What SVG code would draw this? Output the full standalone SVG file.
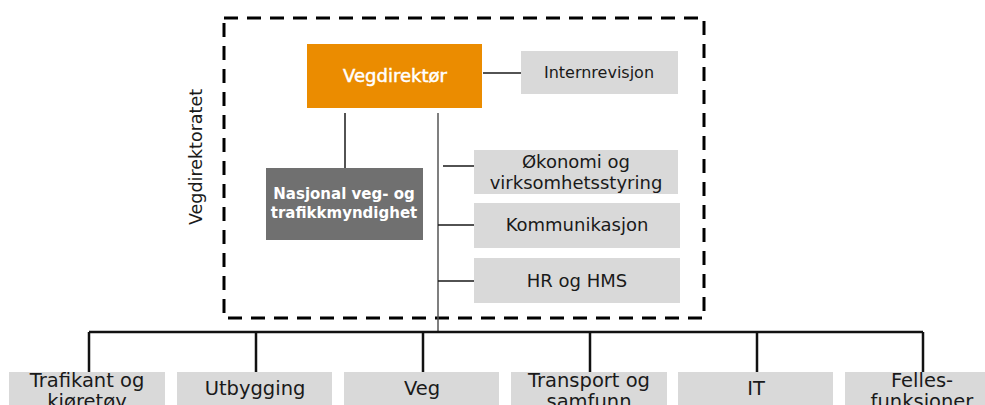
<svg xmlns="http://www.w3.org/2000/svg" width="985" height="405" viewBox="0 0 985 405">
<style>
text{font-family:"DejaVu Sans","Liberation Sans",sans-serif;text-anchor:middle}
.lg{fill:#d9d9d9}
.t{fill:#1a1a1a;font-size:18px}
.bt{fill:#1a1a1a;font-size:19.5px}
.w{fill:#fff}
.c{stroke:#1a1a1a;stroke-width:1.5;fill:none}
.b{stroke:#111;stroke-width:2.5;fill:none}
</style>
<rect width="985" height="405" fill="#fff"/>
<g id="vegdirektoratet">
<rect x="224" y="18" width="480" height="300" fill="none" stroke="#000" stroke-width="3" stroke-dasharray="14 9"/>
<text x="0" y="0" transform="translate(202 157) rotate(-90)" class="t" style="font-size:17.5px">Vegdirektoratet</text>
</g>
<g id="connectors">
<path class="c" d="M483 73H521"/>
<path class="c" d="M345 113V168"/>
<path d="M438 113V332" stroke="#555" stroke-width="1.5" fill="none"/>
<path class="c" d="M443 166H474M438 225H474M438 281H474"/>
<path class="b" d="M89 332H923M89 332V372M256 332V372M423 332V372M590 332V372M757 332V372M923 332V372"/>
</g>
<g id="vegdirektor">
<rect x="307" y="44" width="175" height="64" fill="#eb8c00"/>
<text x="395" y="82" class="w" style="font-size:18px" stroke="#fff" stroke-width="0.5">Vegdirektør</text>
</g>
<g id="internrevisjon">
<rect x="521" y="51" width="157" height="43" class="lg"/>
<text x="599" y="78" class="t" style="font-size:16px">Internrevisjon</text>
</g>
<g id="nasjonal">
<rect x="266" y="168" width="157" height="72" fill="#707070"/>
<text x="344" y="199" class="w" style="font-size:15px" font-weight="bold">Nasjonal veg- og</text>
<text x="344" y="218" class="w" style="font-size:15px" font-weight="bold">trafikkmyndighet</text>
</g>
<g id="okonomi">
<rect x="474" y="150" width="204" height="44" class="lg"/>
<text x="576" y="168" class="t">Økonomi og</text>
<text x="576" y="189" class="t">virksomhetsstyring</text>
</g>
<g id="kommunikasjon">
<rect x="474" y="203" width="206" height="45" class="lg"/>
<text x="577" y="231" class="t">Kommunikasjon</text>
</g>
<g id="hr">
<rect x="474" y="258" width="206" height="45" class="lg"/>
<text x="577" y="287" class="t">HR og HMS</text>
</g>
<g id="trafikant">
<rect x="9" y="372" width="156" height="40" class="lg"/>
<text x="87" y="387" class="bt">Trafikant og</text>
<text x="87" y="408" class="bt">kjøretøy</text>
</g>
<g id="utbygging">
<rect x="177" y="372" width="155" height="40" class="lg"/>
<text x="255" y="395" class="bt">Utbygging</text>
</g>
<g id="veg">
<rect x="344" y="372" width="155" height="40" class="lg"/>
<text x="422" y="395" class="bt">Veg</text>
</g>
<g id="transport">
<rect x="511" y="372" width="156" height="40" class="lg"/>
<text x="589" y="387" class="bt">Transport og</text>
<text x="589" y="408" class="bt">samfunn</text>
</g>
<g id="it">
<rect x="678" y="372" width="155" height="40" class="lg"/>
<text x="756" y="395" class="bt">IT</text>
</g>
<g id="felles">
<rect x="845" y="372" width="150" height="40" class="lg"/>
<text x="922" y="387" class="bt">Felles-</text>
<text x="922" y="408" class="bt">funksjoner</text>
</g>
</svg>
